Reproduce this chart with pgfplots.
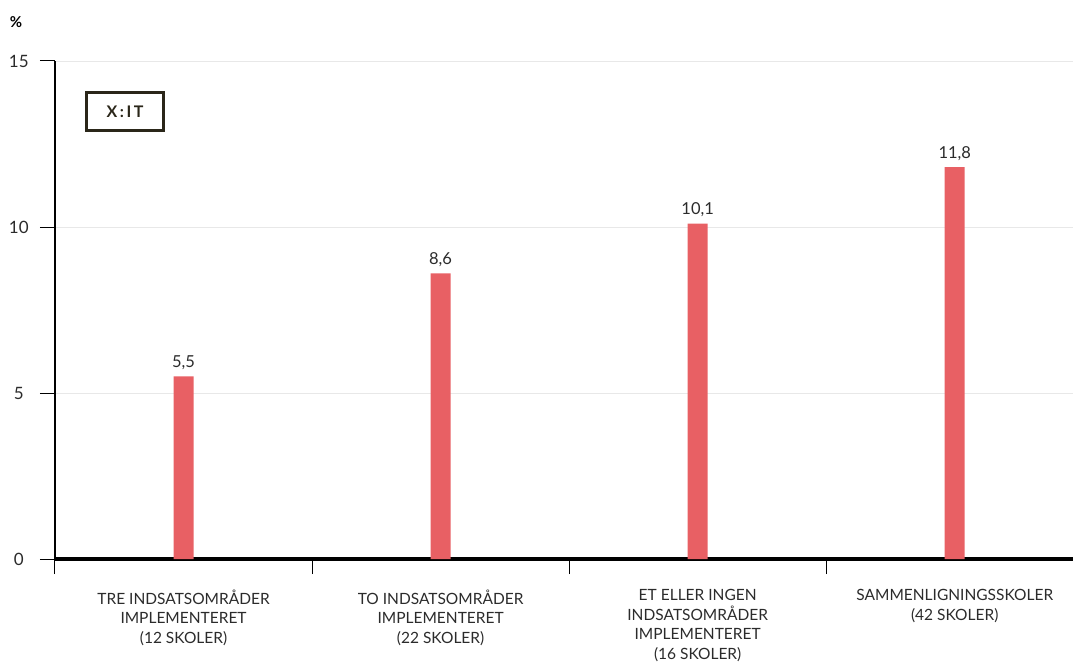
\documentclass[border=0pt]{standalone}
\usepackage{pgfplots}
\pgfplotsset{compat=1.18}
\usepackage{fontspec}
\setmainfont{Lato}
\definecolor{barred}{HTML}{E86064}
\definecolor{txt}{HTML}{2B2B2B}
\definecolor{gridc}{HTML}{E8E8E8}
\definecolor{logo}{HTML}{2A2619}

\begin{document}
\begin{tikzpicture}
\useasboundingbox (-55pt,-103pt) rectangle (1018pt,559pt);
\begin{axis}[
    at={(0,0)}, anchor=south west,
    scale only axis, width=1018pt, height=498pt,
    xmin=-0.5, xmax=3.46, ymin=0, ymax=15,
    axis x line*=bottom, axis y line*=left,
    x axis line style={line width=4pt},
    y axis line style={line width=2.5pt},
    ybar, bar width=20pt,
    ytick={0,5,10,15},
    ymajorgrids, grid style={gridc, line width=0.8pt},
    tick align=outside,
    major tick length=15pt, minor tick length=15pt,
    ytick style={black, line width=1pt},
    major x tick style={draw=none},
    minor x tick style={black, line width=1pt},
    xtick={0,1,2,3},
    minor xtick={-0.5,0.5,1.5,2.5},
    xticklabels={{TRE INDSATSOMRÅDER\\IMPLEMENTERET\\(12 SKOLER)},
                 {TO INDSATSOMRÅDER\\IMPLEMENTERET\\(22 SKOLER)},
                 {ET ELLER INGEN\\INDSATSOMRÅDER\\IMPLEMENTERET\\(16 SKOLER)},
                 {SAMMENLIGNINGSSKOLER\\(42 SKOLER)}},
    xticklabel style={align=center, text=txt, font=\fontsize{15.5}{19.5}\selectfont, yshift=-12pt},
    yticklabel style={text=txt, font=\fontsize{17}{20}\selectfont, text width=24pt, align=center, inner sep=0pt, xshift=-9pt},
    /pgf/number format/assume math mode=true,
    nodes near coords,
    every node near coord/.append style={text=txt, font=\fontsize{16.5}{19}\selectfont, yshift=3pt,
      /pgf/number format/.cd, use comma, fixed, fixed zerofill, precision=1, assume math mode=true},
]
\addplot[fill=barred, draw=none] coordinates {(0,5.5) (1,8.6) (2,10.1) (3,11.8)};
\end{axis}
\node[font=\bfseries\fontsize{15}{17}\selectfont, text=black] at (-39pt,537pt) {\%};
\draw[logo, line width=3pt] (31.5pt,428.5pt) rectangle (108.5pt,466.5pt);
\node[logo, font=\bfseries\fontsize{16}{18}\selectfont\addfontfeatures{LetterSpace=16}] at (70pt,447.5pt) {X:IT};
\end{tikzpicture}
\end{document}
